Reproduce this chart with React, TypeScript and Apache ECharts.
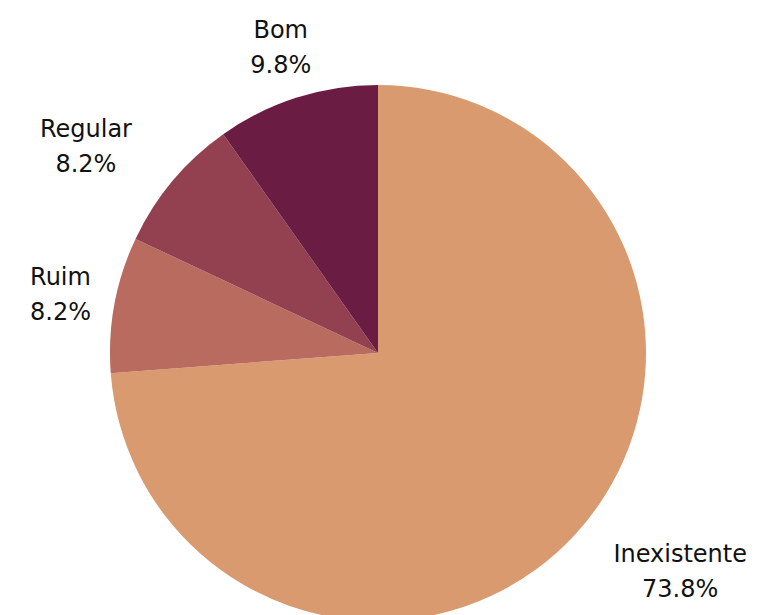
import React, { useEffect, useRef } from "react";
import * as echarts from "echarts";

const categories = ["Inexistente", "Ruim", "Regular", "Bom"];
const values = [73.8, 8.2, 8.2, 9.8];
const colors = ["#D99A70", "#B96B5F", "#934051", "#6A1C42"];

const CX = 378;
const CY = 353;
const R = 268;
const LABEL_OFFSET = 53;
const MIN_LEFT = 30;

export default function App() {
  const ref = useRef<HTMLDivElement>(null);
  useEffect(() => {
    if (!ref.current) return;
    const chart = echarts.init(ref.current, null, { renderer: "svg" });
    const total = values.reduce((a, b) => a + b, 0);
    const labelLayout = (p: any) => {
      const i = p.dataIndex;
      let cum = 0;
      for (let k = 0; k < i; k++) cum += values[k];
      const a = ((cum + values[i] / 2) / total) * Math.PI * 2;
      const ux = Math.sin(a);
      const uy = -Math.cos(a);
      const ax = CX + ux * (R + LABEL_OFFSET);
      const ay = CY + uy * (R + LABEL_OFFSET);
      const w = p.labelRect.width;
      let left: number;
      if (Math.abs(ux) < 0.5) left = ax - w / 2;
      else if (ux < 0) left = ax - w;
      else left = ax;
      left = Math.max(left, MIN_LEFT);
      return { x: left + w / 2, y: ay, align: "center", verticalAlign: "middle" };
    };
    chart.setOption({
      animation: false,
      backgroundColor: "#ffffff",
      series: [
        {
          type: "pie",
          center: [CX, CY],
          radius: R,
          startAngle: 90,
          clockwise: true,
          avoidLabelOverlap: false,
          data: categories.map((name, i) => ({
            name,
            value: values[i],
            itemStyle: { color: colors[i] },
          })),
          label: {
            show: true,
            position: "outside",
            formatter: (p: any) => `${p.name}\n${values[p.dataIndex].toFixed(1)}%`,
            fontFamily: "DejaVu Sans",
            fontWeight: 400,
            fontSize: 24,
            lineHeight: 35,
            color: "#111111",
            align: "center",
          },
          labelLine: { show: false },
          labelLayout,
          emphasis: { disabled: true },
        },
      ],
    });
    return () => chart.dispose();
  }, []);
  return (
    <div
      ref={ref}
      style={{ position: "fixed", left: 0, top: 0, width: 760, height: 615 }}
    />
  );
}
